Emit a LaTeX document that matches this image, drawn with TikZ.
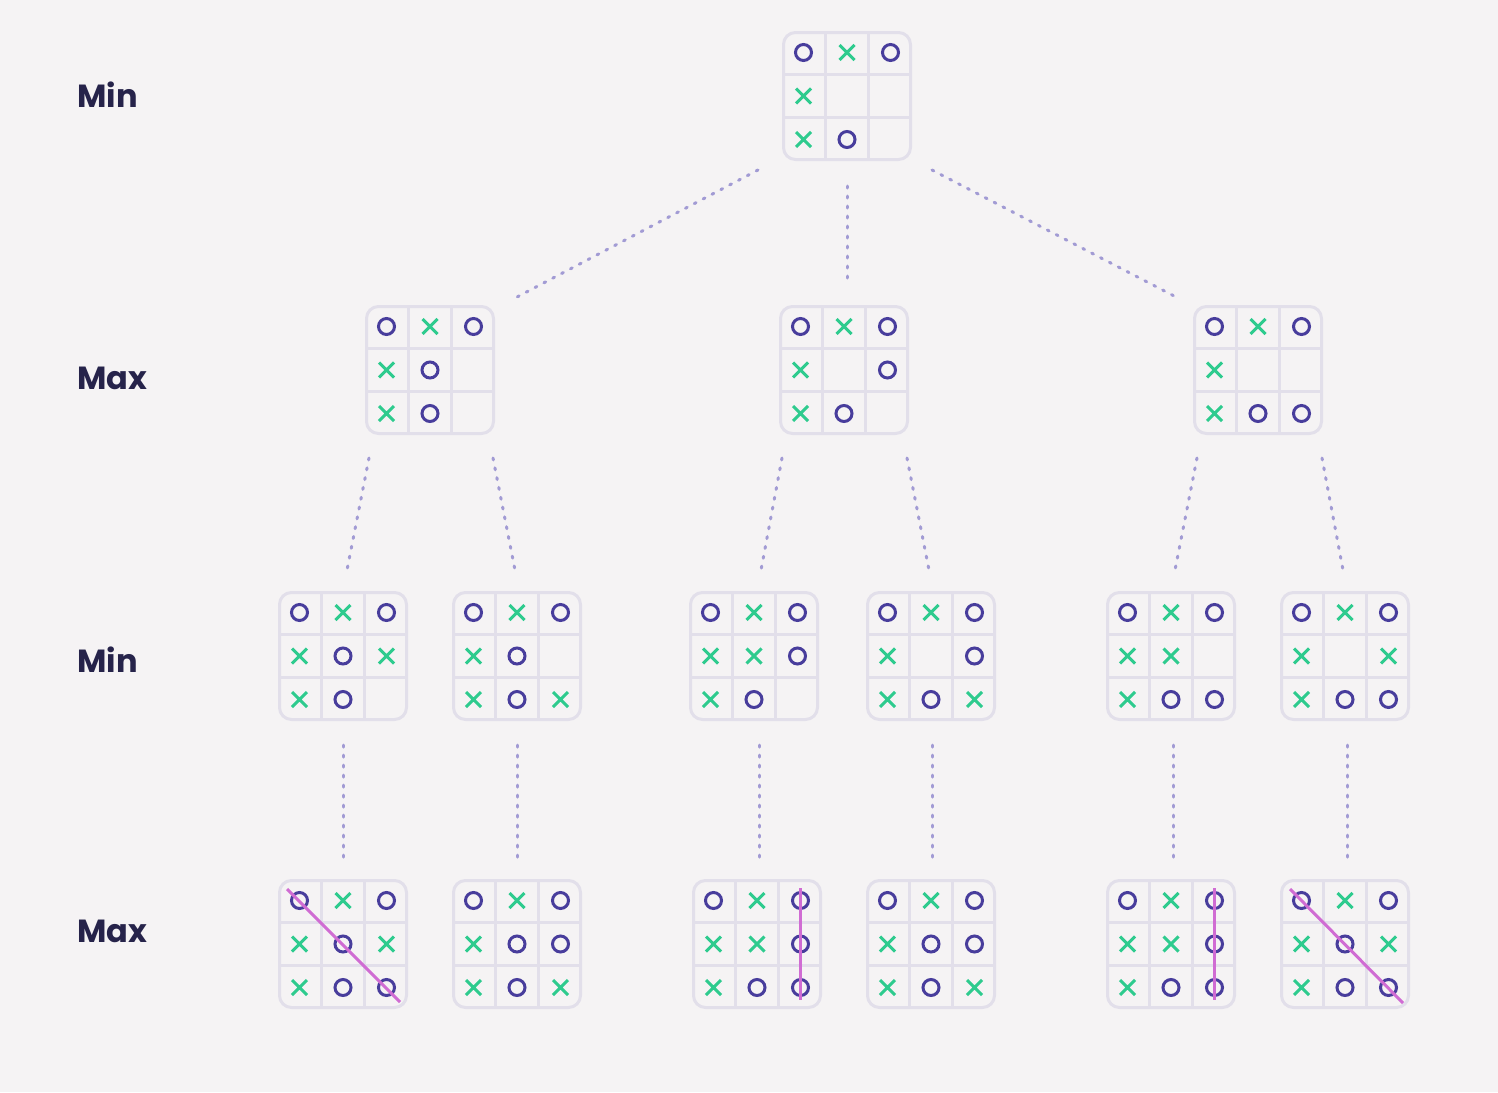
\documentclass[tikz,border=0pt]{standalone}
\usepackage{fontspec}
\setmainfont{Poppins}
\definecolor{bgc}{HTML}{F5F3F4}
\definecolor{gridc}{HTML}{E2DFEA}
\definecolor{ocol}{HTML}{483D9C}
\definecolor{xcol}{HTML}{2ECB8E}
\definecolor{dotc}{HTML}{A29BD4}
\definecolor{wincol}{HTML}{D06CD3}
\definecolor{txtc}{HTML}{26234A}
\tikzset{
  boardbox/.style={draw=gridc, line width=3pt, rounded corners=12pt, minimum size=127pt, inner sep=0pt, fill=bgc},
  gridline/.style={draw=gridc, line width=3pt},
  dotline/.style={draw=dotc, line width=3pt, line cap=round, dash pattern=on 2pt off 8pt},
  winline/.style={draw=wincol, line width=3pt},
  lbl/.style={text=txtc, font=\fontsize{32}{40}\selectfont\bfseries, inner sep=0pt, anchor=base west},
  markO/.pic={\draw[ocol, line width=3pt] (0,0) circle[radius=8pt];},
  markX/.pic={\draw[xcol, line width=3pt] (-7.5,-7.5)--(7.5,7.5) (-7.5,7.5)--(7.5,-7.5);},
  markE/.pic={},
}
\newcommand\tttboard[4]{%
  \node[boardbox] (#1) at (#2,#3) {};
  \draw[gridline] (#2-21.75,#3-63.5) -- (#2-21.75,#3+63.5)
                  (#2+21.75,#3-63.5) -- (#2+21.75,#3+63.5)
                  (#2-63.5,#3-21.75) -- (#2+63.5,#3-21.75)
                  (#2-63.5,#3+21.75) -- (#2+63.5,#3+21.75);
  \foreach \m [count=\i from 0] in {#4} {
    \pgfmathtruncatemacro\rr{div(\i,3)}
    \pgfmathtruncatemacro\cc{mod(\i,3)}
    \path (#2+43.5*\cc-43.5, #3+43.5*\rr-43.5) pic {mark\m};
  }
}
\newcommand\conn[6]{\draw[dotline] ([xshift=#2pt,yshift=#3pt]#1.center) -- ([xshift=#5pt,yshift=#6pt]#4.center);}
\begin{document}
\begin{tikzpicture}[x=1pt,y=-1pt]
\fill[bgc] (0,0) rectangle (1498,1092);
\useasboundingbox (0,0) rectangle (1498,1092);

% labels
\node[lbl] (lab1) at (77,107) {Min};
\node[lbl] (lab2) at (77,389) {Max};
\node[lbl] (lab3) at (77,672) {Min};
\node[lbl] (lab4) at (77,942) {Max};

% boards
\tttboard{t}{847}{96}{O,X,O,X,E,E,X,O,E}
\tttboard{a}{430}{370}{O,X,O,X,O,E,X,O,E}
\tttboard{b}{844}{370}{O,X,O,X,E,O,X,O,E}
\tttboard{c}{1258}{370}{O,X,O,X,E,E,X,O,O}
\tttboard{a1}{343}{656}{O,X,O,X,O,X,X,O,E}
\tttboard{a2}{517}{656}{O,X,O,X,O,E,X,O,X}
\tttboard{b1}{754}{656}{O,X,O,X,X,O,X,O,E}
\tttboard{b2}{931}{656}{O,X,O,X,E,O,X,O,X}
\tttboard{c1}{1171}{656}{O,X,O,X,X,E,X,O,O}
\tttboard{c2}{1345}{656}{O,X,O,X,E,X,X,O,O}
\tttboard{d1}{343}{944}{O,X,O,X,O,X,X,O,O}
\tttboard{d2}{517}{944}{O,X,O,X,O,O,X,O,X}
\tttboard{d3}{757}{944}{O,X,O,X,X,O,X,O,O}
\tttboard{d4}{931}{944}{O,X,O,X,O,O,X,O,X}
\tttboard{d5}{1171}{944}{O,X,O,X,X,O,X,O,O}
\tttboard{d6}{1345}{944}{O,X,O,X,O,X,X,O,O}

% winning lines
\draw[winline] ([xshift=-56pt,yshift=55pt]d1.center) -- ([xshift=57pt,yshift=-58pt]d1.center);
\draw[winline] ([xshift=43pt,yshift=56pt]d3.center) -- ([xshift=43pt,yshift=-56pt]d3.center);
\draw[winline] ([xshift=43pt,yshift=56pt]d5.center) -- ([xshift=43pt,yshift=-56pt]d5.center);
\draw[winline] ([xshift=-55pt,yshift=55pt]d6.center) -- ([xshift=58pt,yshift=-59pt]d6.center);

% connectors
\conn{t}{-89}{-74}{a}{87}{73}
\conn{t}{0}{-90}{b}{3}{92}
\conn{t}{85}{-74}{c}{-82}{73}
\conn{a}{-61}{-88}{a1}{4}{86}
\conn{a}{63}{-88}{a2}{-2}{86}
\conn{b}{-62}{-88}{b1}{7}{86}
\conn{b}{63}{-88}{b2}{-2}{86}
\conn{c}{-61}{-88}{c1}{4}{86}
\conn{c}{64}{-88}{c2}{-2}{86}
\conn{a1}{0}{-89}{d1}{0}{86}
\conn{a2}{0}{-89}{d2}{0}{86}
\conn{b1}{5}{-89}{d3}{2}{86}
\conn{b2}{1}{-89}{d4}{1}{86}
\conn{c1}{2}{-89}{d5}{2}{86}
\conn{c2}{2}{-89}{d6}{2}{86}
\end{tikzpicture}
\end{document}
